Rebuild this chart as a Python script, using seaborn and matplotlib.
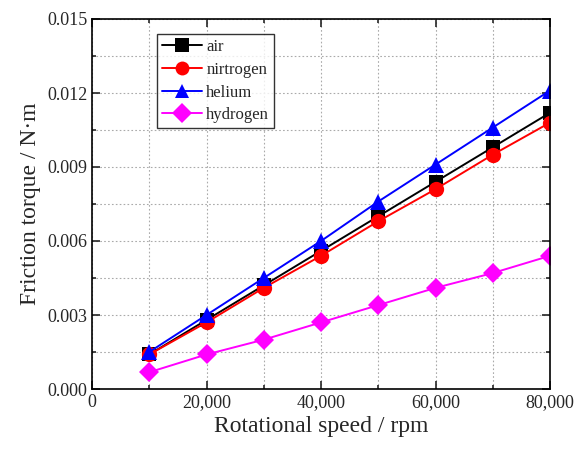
import matplotlib
matplotlib.use("Agg")
import matplotlib.pyplot as plt
import seaborn as sns
import pandas as pd
from matplotlib.ticker import MultipleLocator, FuncFormatter

speed = [10000, 20000, 30000, 40000, 50000, 60000, 70000, 80000]
air = [0.0014, 0.0028, 0.0042, 0.0056, 0.0070, 0.0084, 0.0098, 0.0112]
nitrogen = [0.0014, 0.0027, 0.0041, 0.0054, 0.0068, 0.0081, 0.0095, 0.0108]
helium = [0.0015, 0.0030, 0.0045, 0.0060, 0.0076, 0.0091, 0.0106, 0.0121]
hydrogen = [0.00068, 0.0014, 0.0020, 0.0027, 0.0034, 0.0041, 0.0047, 0.0054]
labels = ["air", "nirtrogen", "helium", "hydrogen"]
colors = ["black", "red", "blue", "magenta"]
markers = ["s", "o", "^", "D"]

sns.set_style("ticks")
plt.rcParams["font.family"] = ["Liberation Serif", "DejaVu Serif"]

rows = []
for lab, vals in zip(labels, [air, nitrogen, helium, hydrogen]):
    for s, v in zip(speed, vals):
        rows.append({"speed": s, "torque": v, "gas": lab})
df = pd.DataFrame(rows)

fig = plt.figure(figsize=(5.77, 4.5), dpi=100)
ax = fig.add_axes([92/577, 61/450, 458/577, 370/450])

sizes = {"s": 10, "o": 11, "^": 11, "D": 10}
sns.lineplot(data=df, x="speed", y="torque", hue="gas", style="gas",
             hue_order=labels, style_order=labels,
             palette=dict(zip(labels, colors)),
             markers=dict(zip(labels, markers)), dashes=False,
             linewidth=1.4, markersize=11, markeredgewidth=0, ax=ax)
for line, m in zip(ax.get_lines(), markers):
    line.set_markersize(sizes[m])

ax.set_xlim(0, 80000)
ax.set_ylim(0, 0.015)
ax.xaxis.set_major_locator(MultipleLocator(20000))
ax.xaxis.set_minor_locator(MultipleLocator(10000))
ax.yaxis.set_major_locator(MultipleLocator(0.003))
ax.yaxis.set_minor_locator(MultipleLocator(0.0015))
ax.xaxis.set_major_formatter(FuncFormatter(lambda v, p: f"{int(v):,}"))
ax.yaxis.set_major_formatter(FuncFormatter(lambda v, p: f"{v:.3f}"))
ax.grid(True, which="both", color="#aaaaaa", linestyle=(0, (1.5, 2)), linewidth=0.8)
ax.set_axisbelow(True)
ax.tick_params(which="both", direction="in", top=True, right=True, labelsize=13, width=1.2)
ax.tick_params(which="major", length=6)
ax.tick_params(which="minor", length=3)
for sp in ax.spines.values():
    sp.set_linewidth(1.2)
    sp.set_color("black")

ax.set_xlabel("Rotational speed / rpm", fontsize=17)
ax.set_ylabel("Friction torque / N·m", fontsize=17)

handles, labs = ax.get_legend_handles_labels()
for h in handles:
    h.set_markersize(10)
leg = ax.legend(handles, labs, loc="upper left", bbox_to_anchor=(0.142, 0.959),
                borderaxespad=0, fontsize=12, frameon=True, fancybox=False,
                edgecolor="black", handlelength=2.4, borderpad=0.3,
                labelspacing=0.4, handletextpad=0.25)
leg.get_frame().set_linewidth(1.0)

fig.savefig("out.png", dpi=100)
